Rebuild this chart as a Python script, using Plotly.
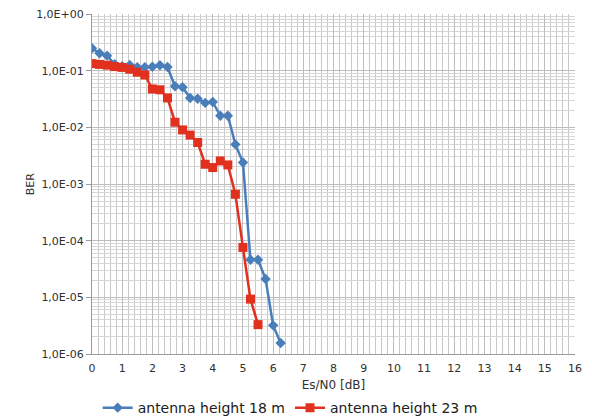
import plotly.graph_objects as go

# Es/N0 sweep in 0.25 dB steps
esn0_18 = [0, 0.25, 0.5, 0.75, 1.0, 1.25, 1.5, 1.75, 2.0, 2.25, 2.5, 2.75, 3.0,
           3.25, 3.5, 3.75, 4.0, 4.25, 4.5, 4.75, 5.0, 5.25, 5.5, 5.75, 6.0, 6.25]
ber_18 = [0.248, 0.203, 0.184, 0.13, 0.12, 0.126, 0.115, 0.115, 0.117, 0.125,
          0.116, 0.053, 0.051, 0.033, 0.032, 0.027, 0.028, 0.016, 0.016, 0.0050,
          0.0024, 4.6e-5, 4.6e-5, 2.1e-5, 3.2e-6, 1.56e-6]

esn0_23 = [0, 0.25, 0.5, 0.75, 1.0, 1.25, 1.5, 1.75, 2.0, 2.25, 2.5, 2.75, 3.0,
           3.25, 3.5, 3.75, 4.0, 4.25, 4.5, 4.75, 5.0, 5.25, 5.5]
ber_23 = [0.133, 0.129, 0.125, 0.118, 0.114, 0.106, 0.094, 0.084, 0.0475, 0.046,
          0.033, 0.0123, 0.009, 0.0073, 0.0054, 0.00223, 0.00195, 0.00255,
          0.00217, 6.6e-4, 7.6e-5, 9.3e-6, 3.3e-6]

y_tickvals = [1e0, 1e-1, 1e-2, 1e-3, 1e-4, 1e-5, 1e-6]
y_ticktext = ["1,0E+00", "1,0E-01", "1,0E-02", "1,0E-03", "1,0E-04", "1,0E-05", "1,0E-06"]
x_tickvals = list(range(0, 17))

FONT = "DejaVu Sans"
GRID = "#bdbdbd"

fig = go.Figure()
fig.add_trace(go.Scatter(
    x=esn0_18, y=ber_18, mode="lines+markers", name="antenna height 18 m",
    line=dict(color="#4a7ebb", width=2.5),
    marker=dict(symbol="diamond", size=8, color="#4a7ebb"),
))
fig.add_trace(go.Scatter(
    x=esn0_23, y=ber_23, mode="lines+markers", name="antenna height 23 m",
    line=dict(color="#e2301f", width=2.5),
    marker=dict(symbol="square", size=9, color="#e2301f"),
))

fig.update_layout(
    width=592, height=416,
    margin=dict(l=92, r=17, t=14, b=62, autoexpand=False),
    paper_bgcolor="white", plot_bgcolor="white",
    font=dict(family=FONT, size=11, color="#404040"),
    showlegend=True,
    legend=dict(orientation="h", xref="container", x=0.165, xanchor="left",
                y=-0.159, yanchor="middle",
                font=dict(size=14, color="#202020"),
                traceorder="normal", bgcolor="rgba(0,0,0,0)"),
)
# vertical y-axis label placed left of the tick labels
fig.add_annotation(
    text="BER", xref="paper", yref="paper", x=-0.128, y=0.5,
    xanchor="center", yanchor="middle", textangle=-90, showarrow=False,
    font=dict(family=FONT, size=11, color="#303030"),
)
fig.update_xaxes(
    range=[0, 16], tickvals=x_tickvals, ticktext=[str(v) for v in x_tickvals],
    showgrid=True, gridcolor=GRID, gridwidth=1,
    minor=dict(dtick=0.2, showgrid=True, gridcolor="#c8c8c8", gridwidth=1),
    showline=True, linecolor="#9a9a9a", linewidth=1, mirror=False,
    ticks="", zeroline=False, ticklabelstandoff=4,
    title=dict(text="Es/N0 [dB]", font=dict(size=12, color="#303030"), standoff=6),
    tickfont=dict(size=11, color="#303030"),
)
fig.update_yaxes(
    type="log", range=[-6, 0], tickvals=y_tickvals, ticktext=y_ticktext,
    showgrid=True, gridcolor=GRID, gridwidth=1,
    minor=dict(dtick="D1", showgrid=True, gridcolor="#d6d6d6", gridwidth=1),
    showline=True, linecolor="#9a9a9a", linewidth=1,
    ticks="outside", ticklen=5, tickcolor="#9a9a9a",
    tickfont=dict(size=11, color="#303030"),
)

fig.write_html("out.html")
